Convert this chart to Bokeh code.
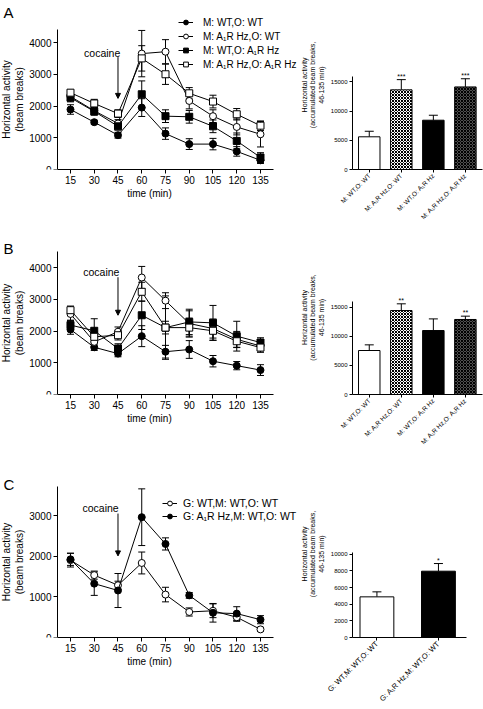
import math
from bokeh.plotting import figure
from bokeh.models import (ColumnDataSource, Whisker, TeeHead, Label, Arrow, NormalHead,
                          Legend, LegendItem, FixedTicker, Range1d)
from bokeh.layouts import row, column
from bokeh.embed import file_html
from bokeh.resources import INLINE
from bokeh.core.properties import value

FONT = "Liberation Sans"

# ---------------- data ----------------
time_min = [15, 30, 45, 60, 75, 90, 105, 120, 135]

# Panel A (line)
a_labels = ["M: WT,O: WT", "M: A\u2081R Hz,O: WT", "M: WT,O: A\u2081R Hz", "M: A\u2081R Hz,O: A\u2081R Hz"]
a_wt_wt = [1890, 1490, 1080, 1950, 1130, 800, 800, 570, 290]
a_wt_wt_err = [150, 60, 90, 280, 180, 170, 180, 150, 100]
a_hz_wt = [2300, 1850, 1450, 3650, 3710, 2160, 1680, 1340, 1110]
a_hz_wt_err = [100, 100, 120, 730, 380, 250, 200, 250, 400]
a_wt_hz = [2260, 1830, 1360, 2370, 1680, 1660, 1360, 900, 380]
a_wt_hz_err = [130, 120, 120, 420, 200, 200, 200, 250, 150]
a_hz_hz = [2420, 2080, 1760, 3500, 3000, 2400, 2140, 1740, 1380]
a_hz_hz_err = [80, 130, 120, 400, 320, 180, 200, 180, 150]

# Panel B (line)
b_wt_wt = [2050, 1490, 1290, 1840, 1350, 1420, 1050, 910, 770]
b_wt_wt_err = [150, 100, 100, 330, 200, 280, 180, 130, 170]
b_hz_wt = [2540, 1660, 1980, 3690, 2960, 2240, 2080, 1740, 1530]
b_hz_wt_err = [200, 150, 150, 350, 250, 400, 300, 250, 150]
b_wt_hz = [2190, 2010, 1450, 2500, 2110, 2290, 2260, 1840, 1640]
b_wt_hz_err = [150, 380, 150, 450, 200, 400, 550, 470, 150]
b_hz_hz = [2660, 1820, 1870, 3240, 2110, 2110, 2010, 1680, 1480]
b_hz_hz_err = [130, 150, 150, 300, 1000, 300, 300, 200, 150]

# Panel C (line)
c_labels = ["G: WT,M: WT,O: WT", "G: A\u2081R Hz,M: WT,O: WT"]
c_wt = [1910, 1540, 1290, 1840, 1060, 630, 660, 500, 200]
c_wt_err = [170, 100, 100, 270, 180, 100, 170, 100, 50]
c_hz = [1930, 1330, 1160, 2970, 2310, 1040, 610, 590, 440]
c_hz_err = [150, 290, 420, 700, 150, 70, 230, 170, 100]

# Bars (accumulated 46-135 min)
bar_a = [5600, 13640, 8440, 14140]
bar_a_err = [950, 1750, 850, 1400]
bar_a_sig = ["", "***", "", "***"]
bar_b = [7560, 14430, 10990, 12890]
bar_b_err = [970, 1150, 2000, 570]
bar_b_sig = ["", "**", "", "**"]
bar_c = [4880, 7960]
bar_c_err = [600, 920]
bar_c_sig = ["", "*"]

y_ticks_line_ab = [0, 1000, 2000, 3000, 4000]
y_ticks_line_c = [0, 1000, 2000, 3000]
y_ticks_bar_ab = [0, 5000, 10000, 15000]
y_ticks_bar_c = [0, 2000, 4000, 6000, 8000, 10000]

LINE_W = 298
BAR_W = 185
X_AXIS_BOUNDS = (6.8, 143.2)


def style(p, tick_size, label_size):
    p.outline_line_color = None
    p.xgrid.visible = False
    p.ygrid.visible = False
    for ax in (p.xaxis[0], p.yaxis[0]):
        ax.axis_line_color = "black"
        ax.major_tick_line_color = "black"
        ax.minor_tick_line_color = None
        ax.major_tick_in = 0
        ax.major_label_text_font = FONT
        ax.major_label_text_font_size = tick_size
        ax.major_label_text_color = "black"
        ax.axis_label_text_font = FONT
        ax.axis_label_text_font_style = "normal"
        ax.axis_label_text_font_size = label_size
        ax.axis_label_text_color = "black"


def make_line(series, y_end, y_top, y_ticks, frame_h, bottom, letter, letter_y,
              coc_text, coc_arrow, legend_spec=None):
    p = figure(width=LINE_W, height=frame_h + bottom,
               x_range=Range1d(-29.2, 159.0), y_range=Range1d(0, y_end),
               output_backend="svg", toolbar_location=None,
               min_border_left=0, min_border_right=0,
               min_border_top=0, min_border_bottom=bottom)
    style(p, "10px", "10px")
    p.xaxis.ticker = FixedTicker(ticks=time_min)
    p.yaxis.ticker = FixedTicker(ticks=y_ticks)
    p.xaxis.bounds = X_AXIS_BOUNDS
    p.yaxis.bounds = (0, y_top)
    p.yaxis.fixed_location = X_AXIS_BOUNDS[0]
    p.xaxis.axis_label = "time (min)"
    p.yaxis.axis_label = "Horizontal activity\n(beam breaks)"
    for ax in (p.xaxis[0], p.yaxis[0]):
        ax.major_tick_out = 4
        ax.major_label_standoff = 2
        ax.axis_label_standoff = 1

    items = []
    for lab, vals, errs, marker, fill in series:
        src = ColumnDataSource(dict(t=time_min, v=vals,
                                    lo=[v - e for v, e in zip(vals, errs)],
                                    hi=[v + e for v, e in zip(vals, errs)]))
        p.add_layout(Whisker(source=src, base="t", lower="lo", upper="hi",
                             line_color="black", line_width=1,
                             upper_head=TeeHead(size=7, line_color="black", line_width=1),
                             lower_head=TeeHead(size=7, line_color="black", line_width=1)))
        lr = p.line("t", "v", source=src, line_color="black", line_width=1)
        sr = p.scatter("t", "v", source=src, marker=marker, size=7,
                       line_color="black", fill_color=fill, line_width=1)
        items.append(LegendItem(label=lab, renderers=[lr, sr]))

    if legend_spec is not None:
        loc, font_size, spacing, standoff = legend_spec
        leg = Legend(items=items, location=loc, orientation="vertical",
                     background_fill_alpha=0, border_line_alpha=0,
                     padding=0, margin=0, spacing=spacing,
                     glyph_width=15, glyph_height=12, label_height=12,
                     label_standoff=standoff, label_text_font=FONT,
                     label_text_font_size=font_size, label_text_color="black")
        p.add_layout(leg)

    tx, ty = coc_text
    p.add_layout(Label(x=tx, y=ty, text="cocaine", text_align="center",
                       text_baseline="middle", text_font=FONT,
                       text_font_size="10.5px", text_color="black"))
    ax_, y0, y1 = coc_arrow
    p.add_layout(Arrow(x_start=ax_, y_start=y0, x_end=ax_, y_end=y1,
                       line_color="black", line_width=1,
                       end=NormalHead(size=5, fill_color="black", line_color="black")))
    p.add_layout(Label(x=3, y=letter_y, x_units="screen", y_units="screen",
                       text=letter, text_font=FONT, text_font_size="15px",
                       text_baseline="middle", text_color="black"))
    return p


def make_bar(labels, vals, errs, sig, fills, hatches, bar_w, x_rng, y_end, y_top, y_ticks,
             frame_h, bottom, right, xlab_size):
    xs = [i + 1 for i in range(len(labels))]
    src = ColumnDataSource(dict(x=xs, top=vals,
                                hi=[v + e for v, e in zip(vals, errs)],
                                fill=fills, hatch=hatches, sig=sig))
    p = figure(width=BAR_W, height=frame_h + bottom,
               x_range=Range1d(*x_rng), y_range=Range1d(0, y_end),
               output_backend="svg", toolbar_location=None,
               min_border_left=42, min_border_right=right,
               min_border_top=0, min_border_bottom=bottom)
    style(p, "6px", "7px")
    p.add_layout(Whisker(source=src, base="x", lower="top", upper="hi",
                         line_color="black", line_width=1,
                         upper_head=TeeHead(size=9, line_color="black", line_width=1),
                         lower_head=None))
    p.vbar(x="x", top="top", width=bar_w, source=src, fill_color="fill",
           line_color="black", line_width=1, hatch_pattern="hatch",
           hatch_color="black", hatch_scale=3, hatch_weight=1)
    p.text(x="x", y="hi", text="sig", source=src, text_align="center",
           text_baseline="bottom", text_font=value(FONT), text_font_size="7px",
           text_color="black")
    p.xaxis.ticker = FixedTicker(ticks=xs)
    p.xaxis.major_label_overrides = {x: lab for x, lab in zip(xs, labels)}
    p.xaxis.major_label_orientation = math.pi / 4
    p.xaxis.major_label_text_font_size = xlab_size
    p.yaxis.ticker = FixedTicker(ticks=y_ticks)
    p.yaxis.bounds = (0, y_top)
    p.yaxis.axis_label = "Horizontal activity\n(accumulated beam breaks,\n46-135 min)"
    for ax in (p.xaxis[0], p.yaxis[0]):
        ax.major_tick_out = 3
        ax.major_label_standoff = 2
        ax.axis_label_standoff = 3
    return p


series_a = [(a_labels[0], a_wt_wt, a_wt_wt_err, "circle", "black"),
            (a_labels[1], a_hz_wt, a_hz_wt_err, "circle", "white"),
            (a_labels[2], a_wt_hz, a_wt_hz_err, "square", "black"),
            (a_labels[3], a_hz_hz, a_hz_hz_err, "square", "white")]
series_b = [(a_labels[0], b_wt_wt, b_wt_wt_err, "circle", "black"),
            (a_labels[1], b_hz_wt, b_hz_wt_err, "circle", "white"),
            (a_labels[2], b_wt_hz, b_wt_hz_err, "square", "black"),
            (a_labels[3], b_hz_hz, b_hz_hz_err, "square", "white")]
series_c = [(c_labels[0], c_wt, c_wt_err, "circle", "white"),
            (c_labels[1], c_hz, c_hz_err, "circle", "black")]

# rows: A 240 px, B 230 px, C 239 px tall (page has no margin)
lA = make_line(series_a, 5323, 4410, y_ticks_line_ab, 169, 71, "A", 157,
               (35, 3670), (45, 3540, 2240), ((178, 99), "10px", 2, 10))
lB = make_line(series_b, 4858, 4500, y_ticks_line_ab, 154, 76, "B", 146,
               (34.5, 3850), (45, 3700, 2500))
lC = make_line(series_c, 4123, 3720, y_ticks_line_c, 167, 72, "C", 153,
               (34, 3200), (45, 3060, 2015), ((162, 115), "10.5px", 1, 6))

fills4 = ["white", "white", "black", "#505050"]
hatch4 = [" ", "x", " ", "x"]
bA = make_bar(a_labels, bar_a, bar_a_err, bar_a_sig, fills4, hatch4, 0.67,
              (0.477, 4.534), 28940, 16000, y_ticks_bar_ab, 169, 71, 1, "6.5px")
bB = make_bar(a_labels, bar_b, bar_b_err, bar_b_sig, fills4, hatch4, 0.67,
              (0.477, 4.534), 26460, 16000, y_ticks_bar_ab, 154, 76, 1, "6.5px")
bC = make_bar(c_labels, bar_c, bar_c_err, bar_c_sig, ["white", "black"], [" ", " "], 0.55,
              (0.603, 2.456), 20050, 10150, y_ticks_bar_c, 167, 72, 17, "7.5px")

layout = column(row(lA, bA), row(lB, bB), row(lC, bC))
open("out.html", "w").write(file_html(layout, INLINE))
